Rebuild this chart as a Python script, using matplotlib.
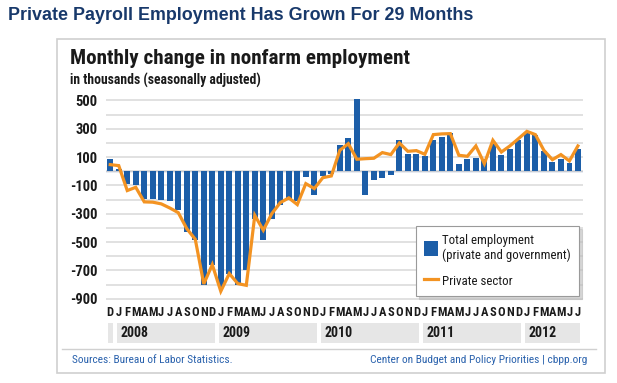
import matplotlib
matplotlib.use('Agg')
import matplotlib.pyplot as plt
from matplotlib import font_manager
from matplotlib.patches import Rectangle, Patch
from matplotlib.lines import Line2D
from matplotlib.transforms import blended_transform_factory
import numpy as np

# ── Data (Dec 2007 .. Jul 2012, thousands) ────────────────────────────────────
MONTHS = list('D' + 'JFMAMJJASOND' * 4 + 'JFMAMJJ')

TOTAL = [87,
         15, -89, -94, -193, -193, -200, -212, -275, -428, -487, -800, -660,
         -818, -726, -800, -694, -340, -485, -339, -238, -200, -210, -38, -167,
         -33, -16, 188, 238, 513, -169, -59, -47, -28, 219, 122, 120,
         111, 219, 245, 268, 54, 85, 96, 85, 195, 113, 155, 223,
         270, 259, 141, 66, 85, 61, 160]

PRIVATE = [47,
           40, -136, -113, -216, -218, -230, -259, -292, -405, -480, -795, -659,
           -847, -722, -793, -805, -311, -416, -299, -221, -188, -235, -87, -122,
           -45, -33, 148, 195, 85, 89, 92, 132, 118, 200, 141, 146,
           120, 259, 264, 266, 113, 106, 179, 54, 219, 136, 179, 230,
           282, 259, 148, 82, 118, 73, 179]

YEARS = ['', '2008', '2009', '2010', '2011', '2012']
YEAR_SPANS = [(0, 0), (1, 12), (13, 24), (25, 36), (37, 48), (49, 55)]

# ── Style ─────────────────────────────────────────────────────────────────────
BLUE = '#1c5ea8'
ORANGE = '#f39322'
NAVY = '#18396b'
LINK = '#2a62ad'
INK = '#1a1a1a'

_names = {f.name for f in font_manager.fontManager.ttflist}
NARROW = next((n for n in ['Liberation Sans Narrow', 'Roboto Condensed',
                           'Open Sans Condensed', 'Noto Sans Condensed', 'Liberation Sans']
               if n in _names), 'DejaVu Sans')
ARIAL = 'Liberation Sans' if 'Liberation Sans' in _names else 'DejaVu Sans'

fig = plt.figure(figsize=(6.17, 3.83), dpi=100)
fig.patch.set_facecolor('white')

# outer frame and footer rule
fig.patches.append(Rectangle((57 / 617, 1 - 373 / 383), (605 - 57) / 617, (373 - 39) / 383,
                             transform=fig.transFigure, fill=False,
                             edgecolor='#cfcfcf', linewidth=1.2))
fig.add_artist(Line2D([62 / 617, 596 / 617], [1 - 349 / 383] * 2,
                      transform=fig.transFigure, color='#d0d0d0', linewidth=1))

fig.text(8 / 617, 1 - 15 / 383, 'Private Payroll Employment Has Grown For 29 Months',
         family=ARIAL, fontsize=12.9, fontweight='bold', color=NAVY, va='center')
fig.text(70 / 617, 1 - 59 / 383, 'Monthly change in nonfarm employment',
         family=NARROW, fontsize=15.2, fontweight='bold', color=INK, va='center')
fig.text(70 / 617, 1 - 80 / 383, 'in thousands (seasonally adjusted)',
         family=NARROW, fontsize=9.8, fontweight='bold', color=INK, va='center')
fig.text(72 / 617, 1 - 360 / 383, 'Sources: Bureau of Labor Statistics.',
         family=NARROW, fontsize=8.2, color=LINK, va='center')
fig.text(587 / 617, 1 - 360 / 383, 'Center on Budget and Policy Priorities | cbpp.org',
         family=NARROW, fontsize=8.2, color=LINK, va='center', ha='right')

# ── Chart ─────────────────────────────────────────────────────────────────────
ax = fig.add_axes([106 / 617, 1 - 300.2 / 383, 477 / 617, 205.4 / 383])
x = np.arange(len(TOTAL))

ax.set_yticks(np.arange(-900, 501, 100), minor=True)
ax.set_yticks(np.arange(-900, 501, 200))
ax.grid(axis='y', which='both', color='#d9d9d9', linewidth=1.1, zorder=0)
ax.axhline(0, color='#8a9bb8', linewidth=1, zorder=1)

ax.bar(x, TOTAL, width=0.68, color=BLUE, zorder=2)
ax.plot(x, PRIVATE, color=ORANGE, linewidth=2.3, zorder=3, solid_joinstyle='miter')

ax.set_xlim(-0.5, 55.6)
ax.set_ylim(-910, 540)
for s in ax.spines.values():
    s.set_visible(False)

ax.set_xticks(x)
ax.set_xticklabels(MONTHS, family=NARROW, fontsize=9, fontweight='bold', color=INK)
ax.set_yticklabels([str(v) for v in range(-900, 501, 200)],
                   family=NARROW, fontsize=10.5, fontweight='bold', color=INK)
ax.tick_params(axis='both', which='both', length=0)
ax.tick_params(axis='x', pad=4)
ax.tick_params(axis='y', pad=6)

# year band under month letters
trans = blended_transform_factory(ax.transData, ax.transAxes)
for year, (a, b) in zip(YEARS, YEAR_SPANS):
    left = a - 0.25
    right = min(b + 0.3, 55.6)
    ax.add_patch(Rectangle((left, -0.21), right - left, 0.097, transform=trans,
                           facecolor='#e6e6e6', edgecolor='none', clip_on=False))
    if year:
        ax.text(a + 0.15, -0.162, year, transform=trans, family=NARROW, fontsize=10,
                fontweight='bold', color=INK, va='center', ha='left')

handles = [Patch(facecolor=BLUE, edgecolor='none'),
           Line2D([], [], color=ORANGE, linewidth=2.3)]
labels = ['Total employment\n(private and government)', 'Private sector']
leg = ax.legend(handles, labels, loc='upper left', bbox_to_anchor=(416 / 617, 1 - 226 / 383),
                bbox_transform=fig.transFigure, prop={'family': NARROW, 'size': 9.3},
                frameon=True, fancybox=False, shadow={'color': '#bbbbbb', 'alpha': 0.6},
                edgecolor='#9a9a9a', framealpha=1, handlelength=1.1, handleheight=1.4,
                handletextpad=0.35, borderpad=0.6, labelspacing=0.85, borderaxespad=0)
leg.get_frame().set_linewidth(0.8)
for t in leg.get_texts():
    t.set_color(INK)

fig.savefig('out.png', dpi=100)
